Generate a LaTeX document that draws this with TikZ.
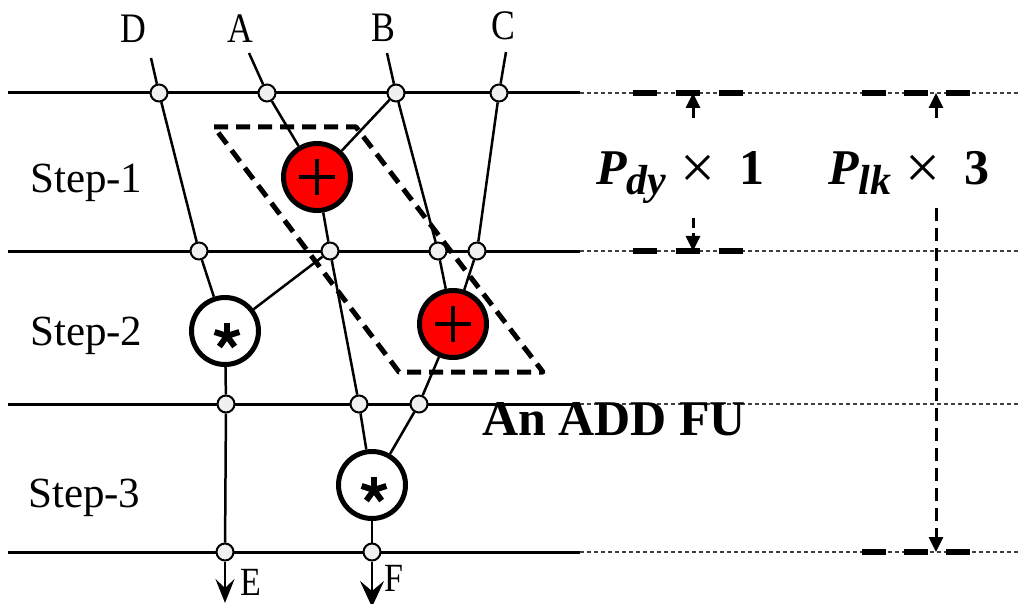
\documentclass[tikz,border=0pt]{standalone}
\usepackage{fontspec}
\setmainfont{Liberation Serif}
\newfontfamily\letterfont[FakeStretch=0.85]{Liberation Serif}
\usetikzlibrary{arrows.meta}
\newcommand{\dimlab}[2]{{\bfseries\itshape P}\raisebox{-10pt}{\fontsize{42}{44}\selectfont\bfseries\itshape #1}\hspace{14pt}\raisebox{-4pt}{\fontsize{62}{64}\selectfont\texttimes}\hspace{24pt}{\bfseries #2}}
\tikzset{
  hline/.style={line width=3pt},
  extline/.style={line width=1.2pt, black!75, dash pattern=on 4pt off 3pt},
  junc/.style={circle, draw, line width=2pt, fill=black!6, minimum size=17pt, inner sep=0pt},
  opnode/.style={circle, draw, line width=5pt, minimum size=67pt, inner sep=0pt},
  addop/.style={opnode, fill=red},
  mulop/.style={opnode, fill=white},
  wire/.style={line width=2.5pt},
  markpen/.style={line width=4.5pt},
  fubox/.style={line width=5pt, dash pattern=on 14pt off 8pt, line join=round},
  dimbar/.style={line width=5.5pt, dash pattern=on 24pt off 19pt},
  dimbarb/.style={line width=5.5pt, dash pattern=on 24pt off 18pt},
  dimarrow/.style={line width=3pt, -{Triangle[width=14pt,length=15pt]}},
  outarrow/.style={wire, -{Stealth[length=24pt,width=19pt,inset=9pt]}},
  steplabel/.style={font=\fontsize{43}{50}\selectfont, anchor=base west, inner sep=0pt},
  letter/.style={font=\letterfont\fontsize{42}{46}\selectfont, inner sep=0pt},
  outletter/.style={font=\letterfont\fontsize{40}{44}\selectfont, inner sep=0pt},
  dimtext/.style={font=\fontsize{50}{56}\selectfont, anchor=base west, inner sep=0pt},
}
\begin{document}
\begin{tikzpicture}[x=1pt, y=-1pt]
\useasboundingbox (0,0) rectangle (1020,604);
% horizontal rows
\foreach \yy/\nm in {93/1,251/2,404/3,552/4}{
  \coordinate (La\nm) at (8,\yy);
  \coordinate (Lb\nm) at (580,\yy);
  \coordinate (Lc\nm) at (1020,\yy);
  \draw[hline] (La\nm) -- (Lb\nm);
  \draw[extline] (Lb\nm) -- (Lc\nm);
}
% dimension bars
\coordinate (dyA1) at (633,93);  \coordinate (dyB1) at (743,93);
\coordinate (dyA2) at (633,251); \coordinate (dyB2) at (743,251);
\coordinate (lkA1) at (862,93);  \coordinate (lkB1) at (978,93);
\coordinate (lkA4) at (862,552); \coordinate (lkB4) at (978,552);
\draw[dimbar] (dyA1) -- (dyB1);
\draw[dimbar] (dyA2) -- (dyB2);
\draw[dimbarb] (lkA1) -- (lkB1);
\draw[dimbarb] (lkA4) -- (lkB4);
% dimension arrows
\coordinate (dyUs) at (693,118); \coordinate (dyUt) at (693,93);
\coordinate (dyDs) at (693,218); \coordinate (dyDt) at (693,251);
\coordinate (lkUs) at (936,118); \coordinate (lkUt) at (936,93);
\coordinate (lkDs) at (936,208); \coordinate (lkDt) at (936,552);
\draw[dimarrow] (dyUs) -- (dyUt);
\draw[dimarrow, dash pattern=on 10pt off 5pt] (dyDs) -- (dyDt);
\draw[dimarrow] (lkUs) -- (lkUt);
\draw[dimarrow, dash pattern=on 13pt off 7pt] (lkDs) -- (lkDt);
\node[dimtext] (tdy) at (596,185) {\dimlab{dy}{1}};
\node[dimtext] (tlk) at (828,185) {\dimlab{lk}{3}};
% ADD FU box
\coordinate (fu1) at (214,127);
\coordinate (fu2) at (356,127);
\coordinate (fu3) at (543,372);
\coordinate (fu4) at (399,372);
\draw[fubox] (fu1) -- (fu2) -- (fu3) -- (fu4) -- cycle;
\node[font=\bfseries\fontsize{50}{56}\selectfont, anchor=base west, inner sep=0pt] (fulabel) at (482,435) {An ADD FU};
% junctions
\node[junc] (j11) at (159,93) {};
\node[junc] (j12) at (267,93) {};
\node[junc] (j13) at (396,93) {};
\node[junc] (j14) at (499,93) {};
\node[junc] (j21) at (199,251) {};
\node[junc] (j22) at (330,251) {};
\node[junc] (j23) at (438,251) {};
\node[junc] (j24) at (477,251) {};
\node[junc] (j31) at (226,404) {};
\node[junc] (j32) at (359,404) {};
\node[junc] (j33) at (419,404) {};
\node[junc] (j41) at (225,552) {};
\node[junc] (j42) at (372,552) {};
% operators
\node[addop] (p1) at (317,177) {};
\node[addop] (p2) at (453,324) {};
\node[mulop] (m1) at (225,331) {};
\node[mulop] (m2) at (372,485) {};
\foreach \pp in {p1,p2}{
  \draw[markpen] (\pp.center) ++(-18,0) -- ++(36,0);
  \draw[markpen] (\pp.center) ++(0,-18) -- ++(0,36);
}
\foreach \mm in {m1,m2}{
  \foreach \ang in {-90,-18,-162,54,126}{
    \draw[line width=6pt] ([shift={(2,5)}]\mm.center) -- ++(\ang:13);
  }
}
% input labels and free ends
\node[letter] (lD) at (133,29) {D};
\node[letter] (lA) at (240,29) {A};
\node[letter] (lB) at (383,28) {B};
\node[letter] (lC) at (503,26) {C};
\coordinate (tD) at (151,58);
\coordinate (tA) at (249,53);
\coordinate (tB) at (387,53);
\coordinate (tC) at (506,52);
% wires
\draw[wire] (tD) -- (j11);
\draw[wire] (tA) -- (j12);
\draw[wire] (tB) -- (j13);
\draw[wire] (tC) -- (j14);
\draw[wire] (j11) -- (j21);
\draw[wire] (j21) -- (m1);
\draw[wire] (j12) -- (p1);
\draw[wire] (j13) -- (p1);
\draw[wire] (p1) -- (j22);
\draw[wire] (j22) -- (m1);
\draw[wire] (j22) -- (j32);
\draw[wire] (j32) -- (m2);
\draw[wire] (j13) -- (j23);
\draw[wire] (j23) -- (p2);
\draw[wire] (j14) -- (j24);
\draw[wire] (j24) -- (p2);
\draw[wire] (p2) -- (j33);
\draw[wire] (j33) -- (m2);
\draw[wire] (m1) -- (j31);
\draw[wire] (j31) -- (j41);
\draw[wire] (m2) -- (j42);
% outputs
\coordinate (oE) at (225,603);
\coordinate (oF) at (372,607);
\draw[outarrow] (j41) -- (oE);
\draw[outarrow, -{Stealth[length=26pt,width=24pt,inset=10pt]}] (j42) -- (oF);
\node[outletter] (lE) at (251,582) {E};
\node[outletter] (lF) at (394,578) {F};
% step labels
\node[steplabel] (s1) at (30,193) {Step-1};
\node[steplabel] (s2) at (30,345) {Step-2};
\node[steplabel] (s3) at (28,507) {Step-3};
\end{tikzpicture}
\end{document}
